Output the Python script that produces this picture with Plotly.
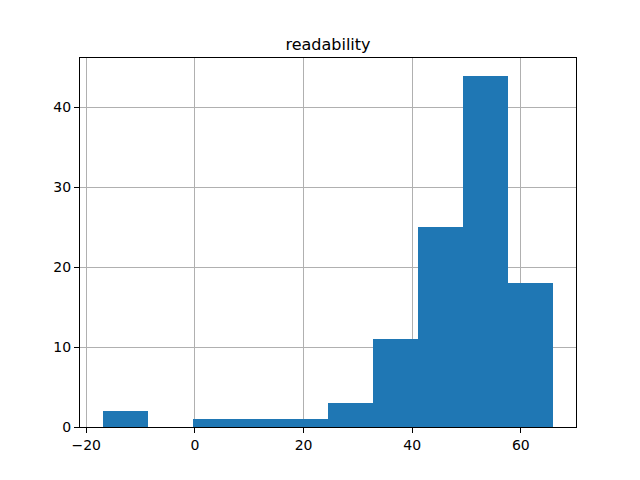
import plotly.graph_objects as go

bin_edges = [-17.0, -8.7, -0.4, 7.9, 16.2, 24.5, 32.8, 41.1, 49.4, 57.7, 66.0]
counts = [2, 0, 1, 1, 1, 3, 11, 25, 44, 18]
title_text = "readability"
x_ticks = [-20, 0, 20, 40, 60]
y_ticks = [0, 10, 20, 30, 40]

centers = [(bin_edges[i] + bin_edges[i + 1]) / 2 for i in range(len(counts))]
widths = [bin_edges[i + 1] - bin_edges[i] for i in range(len(counts))]

span = bin_edges[-1] - bin_edges[0]
xr = [bin_edges[0] - 0.05 * span, bin_edges[-1] + 0.05 * span]
yr = [0, max(counts) * 1.05]

fig = go.Figure(go.Bar(x=centers, y=counts, width=widths, marker=dict(color="#1f77b4", line=dict(width=0))))

axis_common = dict(
    showline=True, linecolor="black", linewidth=1, mirror=True,
    ticks="outside", ticklen=5, tickwidth=1, tickcolor="black",
    showgrid=True, gridcolor="#b0b0b0", gridwidth=1, zeroline=False,
    layer="above traces",
    tickfont=dict(family="DejaVu Sans", size=14, color="black"),
)
fig.update_layout(
    width=640, height=480,
    margin=dict(l=80, r=64, t=58, b=53),
    paper_bgcolor="white", plot_bgcolor="white",
    title=dict(text=title_text, x=0.5, xanchor="center", y=1 - 44 / 480, yanchor="middle",
               xref="paper", font=dict(family="DejaVu Sans", size=16, color="black")),
    showlegend=False, bargap=0,
)
fig.update_xaxes(range=xr, tickvals=x_ticks, **axis_common)
fig.update_yaxes(range=yr, tickvals=y_ticks, **axis_common)

fig.write_html("out.html")
